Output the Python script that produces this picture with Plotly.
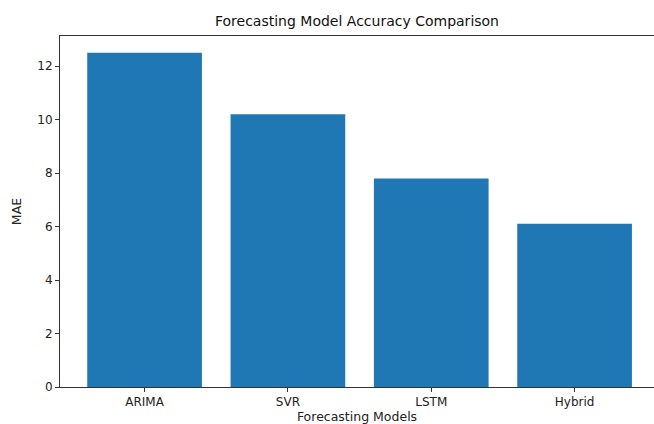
import plotly.graph_objects as go

models = ["ARIMA", "SVR", "LSTM", "Hybrid"]
mae = [12.5, 10.2, 7.8, 6.1]
y_ticks = [0, 2, 4, 6, 8, 10, 12]

fig = go.Figure(go.Bar(x=models, y=mae, marker=dict(color="#1f77b4", line=dict(width=0)), width=0.8))

font = "DejaVu Sans, sans-serif"
fig.update_layout(
    width=654, height=424, autosize=False,
    margin=dict(l=60, r=0, t=36, b=37, autoexpand=False),
    plot_bgcolor="white", paper_bgcolor="white",
    font=dict(family=font, size=12, color="#222"),
    title=dict(text="Forecasting Model Accuracy Comparison", x=0.5, xanchor="center",
               xref="paper", y=1 - 21/424, yanchor="middle", font=dict(size=14, color="#111")),
    showlegend=False,
    bargap=0.2,
)
fig.update_xaxes(
    range=[-0.59, 3.554], showline=True, linecolor="#333", linewidth=1, mirror=True,
    ticks="outside", ticklen=4, tickcolor="#333", showgrid=False, automargin=False,
    title=dict(text="Forecasting Models", standoff=5, font=dict(size=12.5)),
    tickfont=dict(size=12),
)
fig.update_yaxes(
    range=[0, 13.125], showline=True, linecolor="#333", linewidth=1, mirror=False,
    ticks="outside", ticklen=4, tickcolor="#333", showgrid=False, zeroline=False,
    tickvals=y_ticks, tickfont=dict(size=12), automargin=False,
    title=dict(text="MAE", standoff=12, font=dict(size=12.5)),
)
fig.write_html("out.html", config={"responsive": False, "displayModeBar": False},
               post_script="document.body.style.margin='0';document.body.style.overflow='hidden';")
